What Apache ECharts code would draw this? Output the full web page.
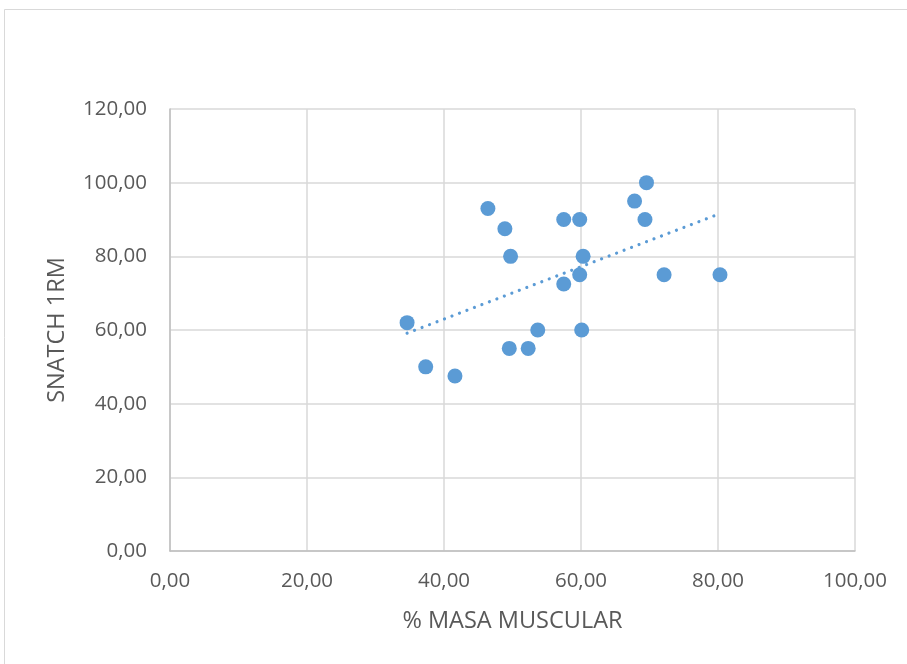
<!DOCTYPE html>
<html>
<head>
<meta charset="utf-8">
<script src="https://cdn.jsdelivr.net/npm/echarts@6/dist/echarts.min.js"></script>
<style>
  html, body { margin: 0; padding: 0; background: #ffffff; }
  #chart { width: 907px; height: 664px; }
</style>
</head>
<body>
<div id="chart"></div>
<script>
// % masa muscular vs. snatch 1RM, one entry per athlete
const masaMuscular = [34.61, 37.33, 41.60, 46.41, 48.89, 49.72, 49.53, 52.29, 53.69, 57.48,
                      57.48, 59.81, 59.81, 60.31, 60.10, 69.56, 67.82, 69.34, 72.13, 80.29];
const snatch1RM    = [62.0, 50.0, 47.5, 93.0, 87.5, 80.0, 55.0, 55.0, 60.0, 90.0,
                      72.5, 90.0, 75.0, 80.0, 60.0, 100.0, 95.0, 90.0, 75.0, 75.0];
const xTicks = [0, 20, 40, 60, 80, 100];
const yTicks = [0, 20, 40, 60, 80, 100, 120];

const points = masaMuscular.map((x, i) => [x, snatch1RM[i]]);

// least-squares linear trend over the data range
const n = points.length;
const mx = masaMuscular.reduce((a, b) => a + b, 0) / n;
const my = snatch1RM.reduce((a, b) => a + b, 0) / n;
let sxy = 0, sxx = 0;
for (let i = 0; i < n; i++) {
  sxy += (masaMuscular[i] - mx) * (snatch1RM[i] - my);
  sxx += (masaMuscular[i] - mx) ** 2;
}
const slope = sxy / sxx;
const intercept = my - slope * mx;
const xMin = Math.min(...masaMuscular), xMax = Math.max(...masaMuscular);
const trend = [[xMin, intercept + slope * xMin], [xMax, intercept + slope * xMax]];

const fmt = v => v.toFixed(2).replace('.', ',');
const font = '"Open Sans", "Noto Sans", sans-serif';
const textColor = '#595959';

const chart = echarts.init(document.getElementById('chart'), null, { renderer: 'canvas' });
chart.setOption({
  animation: false,
  backgroundColor: '#ffffff',
  graphic: [{
    type: 'rect',
    silent: true,
    shape: { x: 4.5, y: 9.5, width: 1000, height: 1000 },
    style: { fill: 'none', stroke: '#d9d9d9', lineWidth: 1 }
  }],
  grid: { left: 170, right: 52, top: 109, bottom: 113 },
  xAxis: {
    type: 'value',
    min: xTicks[0], max: xTicks[xTicks.length - 1], interval: xTicks[1] - xTicks[0],
    name: '% MASA MUSCULAR',
    nameLocation: 'middle',
    nameGap: 58,
    nameTextStyle: { color: textColor, fontFamily: font, fontSize: 23.5 },
    axisLine: { show: true, lineStyle: { color: '#bfbfbf', width: 1.5 } },
    axisTick: { show: false },
    axisLabel: { color: textColor, fontFamily: font, fontSize: 20.5, margin: 20, formatter: fmt },
    splitLine: { show: true, lineStyle: { color: '#d9d9d9', width: 1.5 } }
  },
  yAxis: {
    type: 'value',
    min: yTicks[0], max: yTicks[yTicks.length - 1], interval: yTicks[1] - yTicks[0],
    name: 'SNATCH 1RM',
    nameLocation: 'middle',
    nameGap: 101,
    nameRotate: 90,
    nameTextStyle: { color: textColor, fontFamily: font, fontSize: 23.5 },
    axisLine: { show: true, lineStyle: { color: '#bfbfbf', width: 1.5 } },
    axisTick: { show: false },
    axisLabel: { color: textColor, fontFamily: font, fontSize: 20.5, margin: 23, formatter: fmt },
    splitLine: { show: true, lineStyle: { color: '#d9d9d9', width: 1.5 } }
  },
  series: [
    {
      type: 'scatter',
      data: points,
      symbol: 'circle',
      symbolSize: 15,
      itemStyle: { color: '#5b9bd5', opacity: 1 },
      z: 3
    },
    {
      type: 'line',
      data: trend,
      symbol: 'none',
      silent: true,
      lineStyle: { color: '#5b9bd5', width: 3.2, type: [0.01, 8], cap: 'round' },
      z: 2
    }
  ]
});
</script>
</body>
</html>
